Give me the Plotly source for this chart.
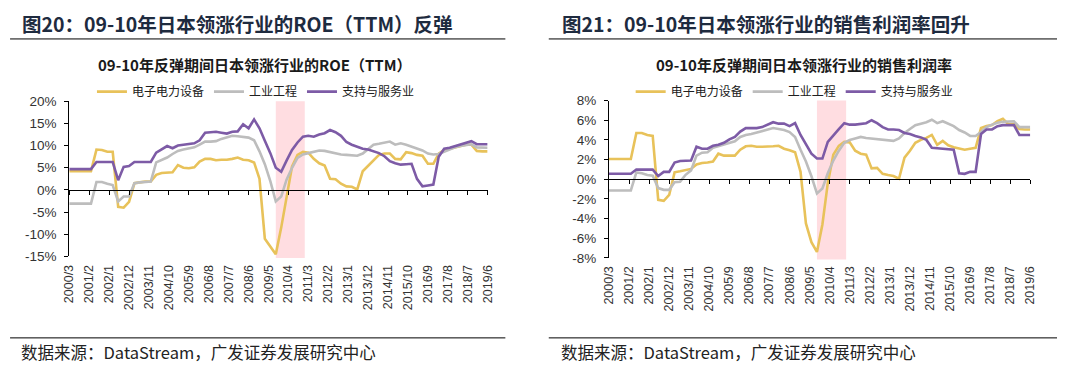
import plotly.graph_objects as go
import pandas as pd

# ---------------- data ----------------
# quarterly observations, 2000/3 ... 2019/6
dates = pd.date_range("2000-03-01", periods=78, freq="3MS")

tick_labels = ["2000/3", "2001/2", "2002/1", "2002/12", "2003/11", "2004/10", "2005/9",
               "2006/8", "2007/7", "2008/6", "2009/5", "2010/4", "2011/3", "2012/2",
               "2013/1", "2013/12", "2014/11", "2015/10", "2016/9", "2017/8", "2018/7",
               "2019/6"]

series_names = ["电子电力设备", "工业工程", "支持与服务业"]
series_colors = ["#E8C25A", "#BDBDBD", "#7D5BA6"]

# ROE (TTM), %
roe_elec = [4.2, 4.2, 4.2, 4.2, 4.2, 9.1, 9.0, 8.6, 8.6, -3.8, -4.0, -2.7, 1.5, 1.7, 1.9, 1.9,
            3.4, 3.8, 3.9, 4.0, 5.6, 5.0, 4.9, 5.1, 6.4, 7.0, 7.0, 6.7, 6.8, 6.8, 7.0, 7.3,
            6.8, 6.7, 6.2, 2.5, -11.0, -12.9, -14.5, -8.5, -1.3, 5.3, 7.9, 8.6, 8.4, 7.0,
            6.0, 5.5, 2.5, 2.4, 1.4, 0.8, 0.7, 0.1, 4.2, 5.5, 6.8, 7.9, 8.2, 8.2, 7.0, 6.9,
            8.5, 8.3, 7.9, 7.7, 5.9, 5.9, 8.2, 9.0, 9.3, 9.6, 10.0, 10.2, 10.2, 8.8, 8.7, 8.7]
roe_ind = [-3.1, -3.1, -3.1, -3.1, -3.1, 1.8, 1.8, 1.4, 1.1, -2.6, -1.5, -1.5, 1.5, 1.7, 1.8, 1.9,
           6.2, 6.7, 7.3, 8.1, 8.8, 9.1, 9.3, 9.6, 10.2, 10.9, 10.9, 11.0, 11.5, 11.9, 12.2, 12.1,
           12.0, 11.8, 11.2, 8.7, 5.8, 2.0, -2.6, -1.5, 2.3, 5.0, 7.2, 8.0, 8.3, 8.6, 8.9, 8.8,
           8.5, 8.2, 8.0, 7.9, 7.8, 7.7, 8.2, 9.2, 10.2, 10.4, 10.6, 10.9, 10.2, 10.5, 10.2, 9.8,
           9.3, 8.9, 8.2, 8.0, 8.1, 8.6, 9.2, 9.6, 9.9, 10.1, 10.3, 9.6, 9.5, 9.5]
roe_svc = [4.7, 4.7, 4.7, 4.7, 4.7, 6.3, 6.3, 6.3, 6.3, 2.2, 5.2, 5.4, 6.3, 6.3, 6.3, 6.3,
           8.4, 9.2, 9.9, 9.4, 10.0, 10.2, 10.4, 10.5, 11.2, 12.9, 13.0, 13.1, 12.9, 12.7, 13.1, 13.2,
           14.8, 13.9, 15.9, 13.9, 11.1, 8.3, 5.0, 4.1, 6.6, 9.0, 10.7, 12.0, 12.2, 12.0, 12.5, 12.8,
           13.5, 13.0, 12.2, 10.8, 10.2, 9.8, 9.3, 9.1, 8.7, 8.3, 7.6, 6.5, 6.0, 5.7, 5.8, 5.9,
           2.5, 0.8, 1.0, 1.2, 7.5, 9.3, 9.5, 9.9, 10.3, 10.6, 11.0, 10.3, 10.3, 10.3]

# net sales margin, %
npm_elec = [2.06, 2.06, 2.06, 2.06, 2.06, 4.7, 4.7, 4.5, 4.4, -2.1, -2.2, -1.6, 0.7, 0.8, 0.95, 1.05,
            1.5, 1.65, 1.7, 1.8, 2.6, 2.4, 2.4, 2.4, 3.0, 3.35, 3.4, 3.3, 3.3, 3.3, 3.35, 3.4,
            3.1, 2.95, 2.75, 0.75, -4.5, -6.4, -7.4, -4.6, -0.4, 2.5, 3.4, 3.8, 3.75, 2.9, 2.6, 2.5,
            1.1, 1.15, 0.55, 0.42, 0.32, 0.05, 2.2, 2.9, 3.7, 4.0, 4.2, 4.5, 3.5, 3.9, 3.45, 3.25,
            3.1, 3.0, 3.1, 3.2, 5.2, 5.4, 5.5, 5.9, 6.15, 5.6, 5.6, 5.1, 5.05, 5.05]
npm_ind = [-1.14, -1.14, -1.14, -1.14, -1.14, 0.69, 0.6, 0.42, 0.36, -0.9, -1.08, -1.08, -0.3, -0.25, 0.45, 0.9,
           2.4, 2.7, 2.75, 3.2, 3.35, 3.5, 3.65, 3.85, 4.3, 4.5, 4.6, 4.75, 4.95, 5.1, 5.2, 5.1,
           5.0, 4.8, 4.3, 3.0, 1.8, 0.3, -1.45, -0.95, 0.6, 1.9, 2.9, 3.7, 4.0, 4.15, 4.3, 4.2,
           4.15, 4.05, 4.0, 3.95, 3.9, 4.15, 4.7, 5.1, 5.5, 5.65, 5.8, 6.05, 5.7, 5.9, 5.65, 5.4,
           5.0, 4.75, 4.4, 4.4, 4.8, 5.3, 5.55, 5.75, 5.85, 5.85, 5.9, 5.3, 5.3, 5.3]
npm_svc = [0.56, 0.56, 0.56, 0.56, 0.56, 0.98, 0.98, 0.98, 0.98, 0.33, 0.75, 0.75, 1.7, 1.85, 1.9, 1.9,
           3.3, 3.1, 3.1, 3.4, 3.5, 3.7, 4.05, 4.3, 4.84, 5.2, 5.2, 5.2, 5.3, 5.55, 5.8, 5.65,
           5.65, 5.4, 5.7, 4.5, 3.6, 2.6, 2.1, 2.1, 3.8, 4.5, 5.1, 5.7, 5.55, 5.55, 5.6, 5.7,
           6.0, 5.7, 5.3, 5.06, 5.06, 5.0, 4.7, 4.6, 4.4, 4.25, 4.0, 3.2, 3.15, 3.1, 3.05, 3.0,
           0.6, 0.55, 0.75, 0.75, 4.6, 5.06, 5.06, 5.4, 5.5, 5.5, 5.5, 4.5, 4.5, 4.5]

# rebound period highlighted
band_start, band_end = "2009-09-01", "2011-01-01"

roe_range = [-15, 20]
roe_ticks = [-15, -10, -5, 0, 5, 10, 15, 20]
npm_range = [-8, 8]
npm_ticks = [-8, -6, -4, -2, 0, 2, 4, 6, 8]

# ---------------- layout helpers ----------------
# The page body keeps its default 8px margin, so the figure is sized to fill
# the 1065x374 window exactly; positions below are given in window pixels.
PAGE_MARGIN = 8
W, H = 1065 - 2 * PAGE_MARGIN, 374 - 2 * PAGE_MARGIN
def px(x):
    return (x - PAGE_MARGIN) / W
def py(y):
    return 1 - (y - PAGE_MARGIN) / H

tickvals = [pd.Timestamp(int(s.split("/")[0]), int(s.split("/")[1]), 1).strftime("%Y-%m-%d")
            for s in tick_labels]
x_range = ["2000-03-01", "2019-06-01"]

left_dom = [px(63), px(487)]
right_dom = [px(610), px(1037)]
left_ydom = [py(260), py(98)]
right_ydom = [py(261.5), py(97.3)]

CJK = "Noto Sans CJK SC"
fig = go.Figure()

# highlighted rebound period
for xr, yr in [("x", "y"), ("x2", "y2")]:
    fig.add_shape(type="rect", xref=xr, yref=yr + " domain", x0=band_start, x1=band_end,
                  y0=-0.01, y1=1.0, fillcolor="#FFDDE1", line=dict(width=0), layer="below")

panels = [
    ("x", "y", "legend", [roe_elec, roe_ind, roe_svc]),
    ("x2", "y2", "legend2", [npm_elec, npm_ind, npm_svc]),
]
for xa, ya, lg, vals in panels:
    for name, color, v in zip(series_names, series_colors, vals):
        fig.add_trace(go.Scatter(x=dates, y=v, name=name, mode="lines",
                                 line=dict(color=color, width=2.6),
                                 xaxis=xa, yaxis=ya, legend=lg))

def zero_pos(rng, dom):
    return dom[0] + (0 - rng[0]) / (rng[1] - rng[0]) * (dom[1] - dom[0])

xbase = dict(type="date", range=x_range, tickmode="array", tickvals=tickvals,
             ticktext=tick_labels, tickangle=-90, showgrid=False, showline=False,
             ticks="", zeroline=False, ticklabelstandoff=5,
             tickfont=dict(family="Arial, Liberation Sans", size=12.5, color="#333333"))
xzero = dict(type="date", range=x_range, tickmode="array", tickvals=tickvals,
             ticktext=[""] * len(tickvals), showticklabels=False, showgrid=False,
             showline=True, linecolor="#000000", linewidth=1, ticks="outside", ticklen=4,
             tickcolor="#000000", zeroline=False, layer="above traces")
ybase = dict(showgrid=False, showline=True, linecolor="#000000", linewidth=1,
             zeroline=False, ticks="outside", ticklen=4, tickcolor="#000000", tickmode="array",
             ticklabelstandoff=5,
             tickfont=dict(family="Arial, Liberation Sans", size=13.5, color="#333333"))

fig.update_layout(
    width=W, height=H, margin=dict(l=0, r=0, t=0, b=0),
    paper_bgcolor="white", plot_bgcolor="rgba(0,0,0,0)", showlegend=True,
    xaxis=dict(xbase, domain=left_dom, anchor="y"),
    yaxis=dict(ybase, domain=left_ydom, anchor="x", range=roe_range, tickvals=roe_ticks,
               ticktext=[f"{v}%" for v in roe_ticks]),
    xaxis2=dict(xbase, domain=right_dom, anchor="y2"),
    yaxis2=dict(ybase, domain=right_ydom, anchor="x2", range=npm_range, tickvals=npm_ticks,
                ticktext=[f"{v}%" for v in npm_ticks]),
    xaxis3=dict(xzero, domain=left_dom, anchor="free",
                position=zero_pos(roe_range, left_ydom)),
    xaxis4=dict(xzero, domain=right_dom, anchor="free",
                position=zero_pos(npm_range, right_ydom)),
    legend=dict(orientation="h", x=px(86), y=py(88), xanchor="left", yanchor="middle",
                font=dict(family=CJK, size=12, color="#202020"), bgcolor="rgba(0,0,0,0)",
                itemwidth=30, tracegroupgap=0),
    legend2=dict(orientation="h", x=px(632), y=py(88), xanchor="left", yanchor="middle",
                 font=dict(family=CJK, size=12, color="#202020"), bgcolor="rgba(0,0,0,0)",
                 itemwidth=30, tracegroupgap=0),
)

# invisible traces that carry the zero-line axes
for xa, ya in [("x3", "y"), ("x4", "y2")]:
    fig.add_trace(go.Scatter(x=x_range, y=[0, 0], xaxis=xa, yaxis=ya, mode="lines",
                             showlegend=False, hoverinfo="skip",
                             line=dict(width=1, color="rgba(0,0,0,0)")))

# headers, titles, sources, rules
headers = [
    (13, "图20：09-10年日本领涨行业的ROE（TTM）反弹", 3, 505),
    (560, "图21：09-10年日本领涨行业的销售利润率回升", 549, 1065),
]
for x0, text, l0, l1 in headers:
    fig.add_annotation(text="<b>" + text + "</b>", x=px(x0), y=py(17), xref="paper", yref="paper",
                       xanchor="left", yanchor="middle", align="left", showarrow=False,
                       font=dict(family=CJK, size=19.5, color="#1E2B3F"))
    fig.add_shape(type="line", xref="paper", yref="paper", x0=px(l0), x1=px(l1),
                  y0=py(33), y1=py(33), line=dict(color="#000000", width=1))
    fig.add_shape(type="line", xref="paper", yref="paper", x0=px(l0), x1=px(l1),
                  y0=py(345), y1=py(345), line=dict(color="#000000", width=1))
    fig.add_annotation(text="数据来源：DataStream，广发证券发展研究中心", x=px(x0 - 1), y=py(360),
                       xref="paper", yref="paper", xanchor="left", yanchor="middle", align="left",
                       showarrow=False, font=dict(family=CJK, size=16.5, color="#222222"))

titles = [(251, "09-10年反弹期间日本领涨行业的ROE（TTM）"), (808, "09-10年反弹期间日本领涨行业的销售利润率")]
for xc, text in titles:
    fig.add_annotation(text="<b>" + text + "</b>", x=px(xc), y=py(60), xref="paper", yref="paper",
                       xanchor="center", yanchor="middle", showarrow=False,
                       font=dict(family=CJK, size=15, color="#1A1A1A"))

fig.write_html("out.html", config={"displayModeBar": False})
